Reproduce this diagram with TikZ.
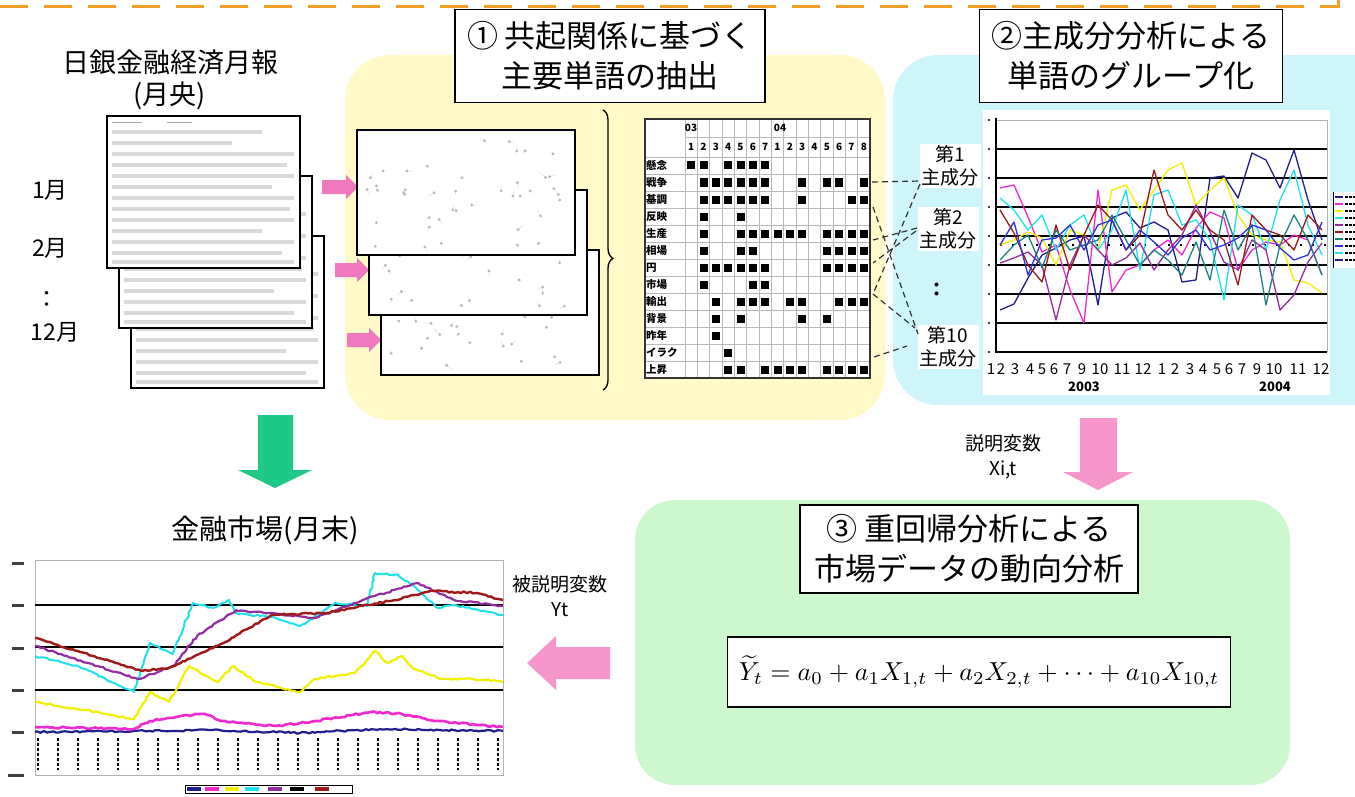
\documentclass[tikz,border=0pt]{standalone}
\usepackage{fontspec}
\setmainfont{Noto Sans CJK JP}
\usepackage{graphicx}
\usetikzlibrary{decorations.pathreplacing,decorations.pathmorphing}
\definecolor{yellowbg}{RGB}{255,250,200}
\definecolor{cyanbg}{RGB}{205,245,250}
\definecolor{greenbg}{RGB}{205,247,205}
\definecolor{orangec}{RGB}{240,160,40}
\definecolor{pinkA}{RGB}{240,120,190}
\definecolor{pinkB}{RGB}{246,150,205}
\definecolor{greenA}{RGB}{30,200,135}
\definecolor{navyc}{RGB}{30,30,140}
\definecolor{magc}{RGB}{240,40,210}
\definecolor{yelc}{RGB}{240,240,0}
\definecolor{cyanc}{RGB}{30,225,240}
\definecolor{purc}{RGB}{145,45,160}
\definecolor{redc}{RGB}{160,25,25}
\definecolor{tealc}{RGB}{30,130,130}
\definecolor{bluec}{RGB}{50,50,225}
\newcommand\docpage[2]{%
  \filldraw[fill=white,draw=black,line width=1.2pt] (#1,#2) rectangle ++(193,152);
  \draw[gray!70,line width=0.8pt] ({#1+5},{#2+6}) -- ++(30,0) ({#1+60},{#2+6}) -- ++(25,0);
  \foreach \yy/\aa/\ll in {16/5/150,27/5/120,38/5/182,49/5/175,60/5/182,71/5/160,82/5/182,93/5/178,104/5/182,115/5/150,126/5/182,137/5/170,146/5/182}
    \draw[gray!30,line width=3.5pt] ({#1+\aa},{#2+\yy}) -- ++(\ll,0);
}
\newcommand\netbox[3]{%
  \filldraw[fill=white,draw=black,line width=1.2pt] (#1,#2) rectangle ++(218,125);
  \pgfmathsetseed{#3}
  \foreach \k in {1,...,42}{%
    \pgfmathsetmacro\px{#1+10+198*rnd}
    \pgfmathsetmacro\py{#2+8+109*rnd}
    \pgfmathsetmacro\qx{12*rnd-6}
    \pgfmathsetmacro\qy{12*rnd-6}
    \draw[gray!25,line width=0.5pt] (\px,\py) -- ++(\qx,\qy);
    \fill[gray!55] (\px,\py) circle (1.6pt);
  }
}
\newcommand\sqrow[2]{\foreach \c in {#2}{\fill ({685+12.333*(\c-0.5)-4},{157+17*(#1-0.5)-4}) rectangle ++(8,8);}}
\newcommand\series[3]{\draw[#1,line width=1.3pt,line join=round] (1000,#2) \foreach \yv [count=\i] in {#3} { -- ({1000+14*\i},\yv) };}
\begin{document}
\begin{tikzpicture}[x=1pt,y=-1pt,
  titlebox/.style={draw=black,line width=1.8pt,fill=white,align=center,font=\fontsize{31}{40}\selectfont,inner sep=0pt},
  plain/.style={align=center,inner sep=0pt},
  pcbox/.style={fill=white,inner sep=2pt,align=center,font=\fontsize{19}{23}\selectfont},
  dashc/.style={black!80,line width=1.2pt,dash pattern=on 6pt off 4pt},
  grid/.style={black,line width=1.4pt}]
\useasboundingbox (0,0) rectangle (1355,797);
\fill[white] (0,0) rectangle (1355,797);
% top frame line
\draw[orangec,line width=3pt,dash pattern=on 28pt off 16pt] (0,7) -- (1338,7);
\draw[orangec,line width=3pt] (1338,8) -- (1338,-2);
% coloured regions
\fill[yellowbg,rounded corners=45pt] (345,55) rectangle (885,420);
\fill[cyanbg,rounded corners=45pt] (893,55) rectangle (1400,405);
\fill[greenbg,rounded corners=40pt] (635,500) rectangle (1290,785);
% left documents
\node[plain,font=\fontsize{27}{32}\selectfont] (srcTitle) at (170,80) {日銀金融経済月報\\(月央)};
\docpage{131}{236}
\docpage{119}{176}
\docpage{107}{116}
\node[plain,font=\fontsize{23}{26}\selectfont] (m1) at (50,190) {1月};
\node[plain,font=\fontsize{23}{26}\selectfont] (m2) at (50,248) {2月};
\node[plain,font=\fontsize{23}{26}\selectfont] (mdots) at (47,300) {：};
\node[plain,font=\fontsize{23}{26}\selectfont] (m12) at (55,332) {12月};
% pink small arrows
\fill[pinkA] (322,180) -- (346,180) -- (346,175) -- (358,187) -- (346,199) -- (346,194) -- (322,194) -- cycle;
\fill[pinkA] (335,263) -- (357,263) -- (357,258) -- (369,270) -- (357,282) -- (357,277) -- (335,277) -- cycle;
\fill[pinkA] (347,333) -- (369,333) -- (369,328) -- (381,340) -- (369,352) -- (369,347) -- (347,347) -- cycle;
% network boxes
\netbox{381}{250}{11}
\netbox{369}{190}{23}
\netbox{357}{130}{37}
% brace
\draw[decorate,decoration={brace,amplitude=10pt,aspect=0.53},line width=1.3pt] (603,110) -- (603,390);
% table
\filldraw[fill=white,draw=none] (645,119) rectangle (870,378);
\foreach \j in {0,...,15} \draw[gray!55,line width=0.5pt] ({685+12.333*\j},119) -- ({685+12.333*\j},378);
\foreach \i in {0,...,13} \draw[gray!55,line width=0.5pt] (645,{157+17*\i}) -- (870,{157+17*\i});
\draw[gray!55,line width=0.5pt] (685,137) -- (870,137);
\draw[black!80,line width=1.2pt] (645,119) rectangle (870,378);
\node[plain,font=\fontsize{10}{12}\selectfont\bfseries] (y03) at (691,128) {03};
\node[plain,font=\fontsize{10}{12}\selectfont\bfseries] (y04) at (780,128) {04};
\foreach \m [count=\j] in {1,2,3,4,5,6,7,1,2,3,4,5,6,7,8}
  \node[plain,font=\fontsize{10}{12}\selectfont\bfseries] at ({685+12.333*(\j-0.5)},147) {\m};
\foreach \lab [count=\i] in {懸念,戦争,基調,反映,生産,相場,円,市場,輸出,背景,昨年,イラク,上昇}
  \node[plain,anchor=west,font=\fontsize{10.5}{12}\selectfont\bfseries] at (646,{157+17*(\i-0.5)}) {\lab};
\sqrow{1}{1,2,4,5,6,7}
\sqrow{2}{2,3,4,5,6,7,10,12,13,15}
\sqrow{3}{2,3,4,5,6,7,10,14,15}
\sqrow{4}{2,5}
\sqrow{5}{2,5,6,7,8,9,10,12,13,14,15}
\sqrow{6}{2,5,6,12,13,14,15}
\sqrow{7}{2,3,4,5,6,7,12,13,14,15}
\sqrow{8}{2,6,7}
\sqrow{9}{3,5,6,7,9,10,13,14,15}
\sqrow{10}{3,5,10,12}
\sqrow{11}{3}
\sqrow{12}{4}
\sqrow{13}{4,5,7,8,9,10,12,13,14,15}
% right chart
\fill[white] (983,110) rectangle (1330,395);
\draw[gray!60,line width=0.8pt] (995,120) -- (1327,120) -- (1327,352);
\foreach \g in {149,178,207,236,265,294,323} \draw[grid] (995,\g) -- (1327,\g);
\draw[grid] (995,352) -- (1327,352);
\draw[black,line width=1.4pt] (996,118) -- (996,352);
\foreach \g in {120,149,178,207,236,265,294,323,352} \fill (989,\g) circle (1.2pt);
\draw[black,line width=1.6pt,dash pattern=on 2pt off 10pt] (1000,245) -- (1327,245);
\series{navyc}{310}{304,278,255,248,240,236,305,218,212,228,222,230,282,280,178,176,198,153,160,188,150,200,240}
\series{magc}{188}{185,217,252,245,290,323,190,292,270,265,250,240,255,228,212,218,270,250,242,245,235,240,275}
\series{yelc}{245}{240,232,238,265,230,235,250,190,185,210,190,170,163,205,190,178,215,235,240,242,280,283,293}
\series{cyanc}{198}{210,230,215,250,225,215,250,230,190,270,195,190,225,220,240,300,205,215,250,200,170,225,255}
\series{purc}{263}{258,252,265,320,265,235,250,265,258,243,270,250,235,205,232,262,270,240,250,310,295,262,243}
\series{redc}{210}{233,265,282,225,270,235,205,220,250,235,170,215,230,210,230,240,285,215,230,235,250,215,230}
\series{tealc}{260}{245,235,268,230,250,245,240,215,240,265,250,260,275,242,280,210,250,225,305,245,215,240,275}
\series{bluec}{245}{222,275,240,238,225,250,225,220,250,230,242,255,238,230,250,245,238,225,230,248,260,255,222}
\foreach \xl/\tl in {991/1,1001/2,1015/3,1030/4,1042/5,1054/6,1067/7,1082/9,1100/10,1122/11,1143/12,1162/1,1175/2,1190/3,1203/4,1217/5,1229/6,1242/7,1257/9,1274/10,1298/11,1321/12}
  \node[plain,font=\fontsize{15}{17}\selectfont] at (\xl,369) {\tl};
\node[plain,font=\fontsize{13}{15}\selectfont\bfseries] (yr03) at (1084,387) {2003};
\node[plain,font=\fontsize{13}{15}\selectfont\bfseries] (yr04) at (1275,387) {2004};
% right legend
\fill[white] (1333,192) rectangle (1360,268);
\draw[black,line width=1pt] (1333,192) -- (1333,268);
\foreach \c [count=\i] in {navyc,magc,yelc,cyanc,purc,redc,tealc,bluec,cyanc,navyc}{
  \draw[\c,line width=1.5pt] (1335,{190+7*\i}) -- ++(8,0);
  \draw[black,line width=2pt,dash pattern=on 3pt off 1pt] (1345,{190+7*\i}) -- ++(10,0);}
% principal component labels
\node[pcbox] (pc1) at (950,166) {第1\\主成分};
\node[pcbox] (pc2) at (948,229) {第2\\主成分};
\node[plain,font=\fontsize{19}{23}\selectfont\bfseries] (pcd) at (937,290) {：};
\node[pcbox] (pc10) at (948,347) {第10\\主成分};
% dashed connectors
\coordinate (r2) at (872,182);
\coordinate (r3) at (873,207);
\coordinate (r6) at (873,240);
\coordinate (r7) at (873,263);
\coordinate (r8) at (873,294);
\coordinate (r12) at (874,357);
\coordinate (p1a) at (921,181);
\coordinate (p1b) at (920,184);
\coordinate (p2a) at (917,228);
\coordinate (p2b) at (916,231);
\coordinate (p10a) at (918,334);
\coordinate (p10b) at (915,328);
\coordinate (p10c) at (907,346);
\draw[dashc] (r2) -- (p1a);
\draw[dashc] (p1b) -- (r8);
\draw[dashc] (r3) -- (p10a);
\draw[dashc] (p2a) -- (r6);
\draw[dashc] (p2b) -- (r7);
\draw[dashc] (r8) -- (p10b);
\draw[dashc] (r12) -- (p10c);
% title boxes
\node[titlebox,minimum width=310pt,minimum height=93pt] (t1) at (610,56) {① 共起関係に基づく\\主要単語の抽出};
\node[titlebox,minimum width=303pt,minimum height=93pt] (t2) at (1131,56) {②主成分分析による\\単語のグループ化};
\node[titlebox,minimum width=338pt,minimum height=88pt] (t3) at (969,549) {③ 重回帰分析による\\市場データの動向分析};
% down arrows
\fill[greenA] (258,415) -- (293,415) -- (293,470) -- (312,470) -- (275,488) -- (238,470) -- (258,470) -- cycle;
\fill[pinkB] (1080,418) -- (1117,418) -- (1117,472) -- (1133,472) -- (1098,490) -- (1063,472) -- (1080,472) -- cycle;
\node[plain,font=\fontsize{19}{25}\selectfont] (xit) at (1003,457) {説明変数\\Xi,t};
% left pink arrow
\fill[pinkB] (610,647) -- (556,647) -- (556,636) -- (527,663) -- (556,690) -- (556,679) -- (610,679) -- cycle;
\node[plain,font=\fontsize{19}{25}\selectfont] (yt) at (560,596) {被説明変数\\Yt};
% equation
\node[draw=black,line width=1.2pt,fill=white,minimum width=503pt,minimum height=70pt,inner sep=0pt] (eq) at (979,672)
  {\scalebox{2.6}{$\widetilde{Y}_t = a_0 + a_1X_{1,t} + a_2X_{2,t} + \cdots + a_{10}X_{10,t}$}};
% bottom chart
\node[plain,font=\fontsize{28}{32}\selectfont] (mkt) at (265,530) {金融市場(月末)};
\draw[gray!60,line width=0.8pt] (35,560) rectangle (503,775);
\foreach \g in {605,647,690} \draw[grid] (35,\g) -- (503,\g);
\foreach \g in {563,605,648,690,732} \fill[black!75] (12,{\g-1.5}) rectangle (24,{\g+1.5});
\fill[black!75] (8,773.5) rectangle (24,776.5);
\foreach \k in {0,...,23} \draw[black,line width=1.3pt,dash pattern=on 3pt off 2pt] ({38+20*\k},738) -- ({38+20*\k},770);
\begin{scope}[decoration={random steps,segment length=3pt,amplitude=0.9pt},line join=round]
\draw[navyc,line width=2.2pt,decorate] (35,732) -- (150,731) -- (210,730) -- (300,733) -- (380,729) -- (440,730) -- (503,731);
\draw[magc,line width=2.6pt,decorate] (35,727) -- (134,729) -- (150,721) -- (181,716) -- (205,714) -- (221,721) -- (276,726) -- (315,721) -- (371,712) -- (402,714) -- (434,721) -- (503,727);
\draw[yelc,line width=2.2pt,decorate] (35,702) -- (78,709) -- (134,719) -- (150,692) -- (169,702) -- (189,666) -- (217,682) -- (233,666) -- (256,682) -- (300,692) -- (315,679) -- (355,673) -- (375,651) -- (387,663) -- (402,656) -- (414,669) -- (442,679) -- (473,679) -- (503,682);
\draw[cyanc,line width=2pt,decorate] (35,656) -- (78,666) -- (134,692) -- (150,643) -- (173,654) -- (193,603) -- (213,608) -- (229,600) -- (236,613) -- (276,618) -- (300,626) -- (335,603) -- (367,606) -- (375,573) -- (398,575) -- (418,590) -- (438,608) -- (454,605) -- (503,615);
\draw[purc,line width=2.2pt,decorate] (35,646) -- (138,679) -- (173,666) -- (197,636) -- (236,610) -- (315,618) -- (375,596) -- (418,583) -- (454,600) -- (503,606);
\draw[redc,line width=2.4pt,decorate] (35,638) -- (142,671) -- (169,668) -- (221,644) -- (272,615) -- (327,613) -- (394,600) -- (434,591) -- (477,593) -- (503,600);
\end{scope}
% bottom legend
\draw[black,line width=0.8pt] (185,785) rectangle (352,793);
\foreach \c/\a in {navyc/187,magc/205,yelc/225,cyanc/245,purc/268,black/290,redc/315}
  \fill[\c] (\a,787) rectangle ++(14,4);
\end{tikzpicture}
\end{document}
